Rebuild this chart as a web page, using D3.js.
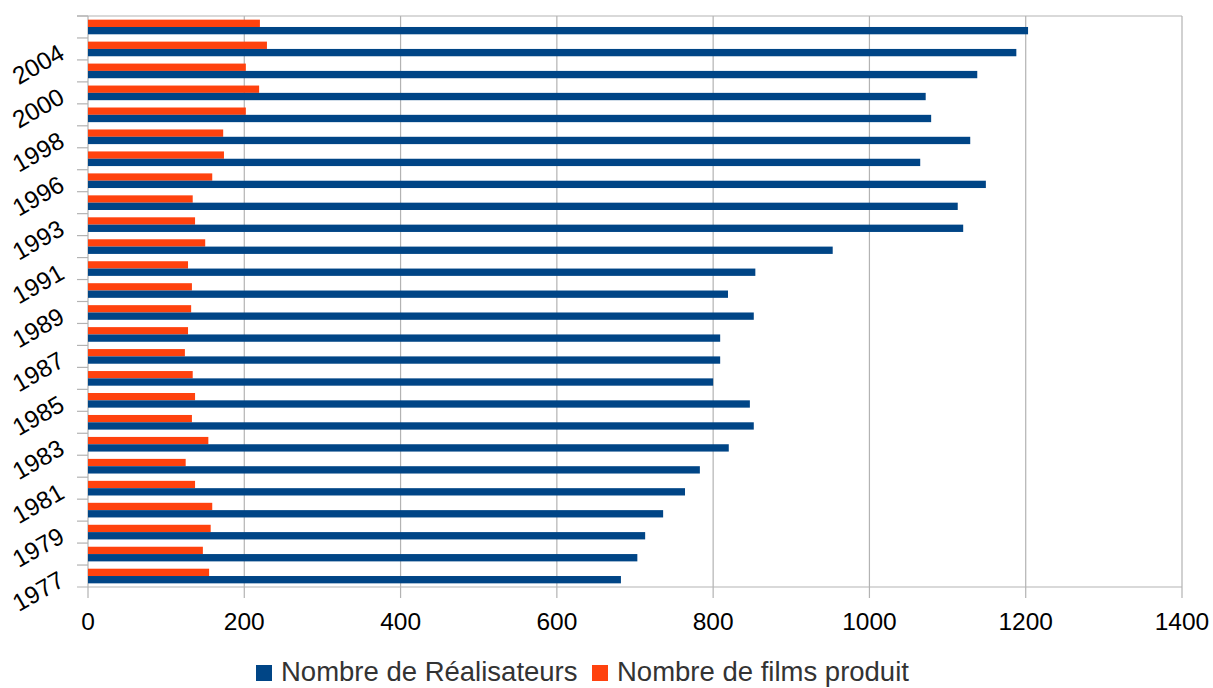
<!DOCTYPE html>
<html lang="fr">
<head>
<meta charset="UTF-8">
<title>Réalisateurs et films produits</title>
<script src="https://d3js.org/d3.v7.min.js"></script>
<style>
  body { margin: 0; background: #fff; font-family: "Liberation Sans", Arial, sans-serif; }
</style>
</head>
<body>
<script>
// years from bottom (1977) to top
var years = ["1977","1978","1979","1980","1981","1982","1983","1984","1985","1986",
             "1987","1988","1989","1990","1991","1992","1993","1995","1996","1997",
             "1998","1999","2000","2002","2004","2005"];
var realisateurs = [682,703,713,736,764,783,820,852,847,800,
                    809,809,852,819,854,953,1120,1113,1149,1065,
                    1129,1079,1072,1138,1188,1203];
var films = [155,147,157,159,137,125,154,133,137,134,
             124,128,132,133,128,150,137,134,159,174,
             173,202,219,202,229,220];
var xTicks = [0,200,400,600,800,1000,1200,1400];
var seriesNames = ["Nombre de Réalisateurs","Nombre de films produit"];
var colors = ["#004586","#ff420e"];

var W = 1213, H = 688;
var m = {left: 88, right: 31, top: 16, bottom: 101};

var svg = d3.select("body").append("svg").attr("width", W).attr("height", H);

var x = d3.scaleLinear().domain([0,1400]).range([m.left, W - m.right]);
var y0 = d3.scaleBand().domain(years).range([H - m.bottom, m.top]).paddingInner(0).paddingOuter(0);
var y1 = d3.scaleBand().domain(["films","real"]).range([0, y0.bandwidth()]).paddingOuter(0.5);

// vertical grid
svg.append("g").selectAll("line").data(xTicks).enter().append("line")
  .attr("x1", d => x(d)).attr("x2", d => x(d))
  .attr("y1", m.top).attr("y2", H - m.bottom + 11)
  .attr("stroke", "#b3b3b3").attr("stroke-width", 1.2);

// top line
svg.append("line").attr("x1", m.left - 11).attr("x2", x(1400))
  .attr("y1", m.top).attr("y2", m.top).attr("stroke", "#b3b3b3").attr("stroke-width", 1.2);

// category ticks
var bounds = years.map(d => y0(d));
svg.append("g").selectAll("line").data(bounds).enter().append("line")
  .attr("x1", m.left - 11).attr("x2", m.left)
  .attr("y1", d => d).attr("y2", d => d)
  .attr("stroke", "#b3b3b3").attr("stroke-width", 1.2);

// bottom axis line
svg.append("line").attr("x1", m.left - 11).attr("x2", x(1400))
  .attr("y1", H - m.bottom).attr("y2", H - m.bottom)
  .attr("stroke", "#b3b3b3").attr("stroke-width", 1.2);

// bars
var rows = svg.append("g").selectAll("g").data(years).enter().append("g")
  .attr("transform", d => "translate(0," + y0(d) + ")");
rows.append("rect")
  .attr("x", x(0)).attr("y", y1("films"))
  .attr("width", (d, i) => x(films[i]) - x(0)).attr("height", y1.bandwidth())
  .attr("fill", colors[1]);
rows.append("rect")
  .attr("x", x(0)).attr("y", y1("real"))
  .attr("width", (d, i) => x(realisateurs[i]) - x(0)).attr("height", y1.bandwidth())
  .attr("fill", colors[0]);

// x tick labels
svg.append("g").selectAll("text").data(xTicks).enter().append("text")
  .attr("x", d => x(d)).attr("y", H - m.bottom + 43)
  .attr("text-anchor", "middle").attr("font-size", 24.5).attr("fill", "#000")
  .text(d => d);

// y tick labels (every other)
svg.append("g").selectAll("text").data(years.filter((d, i) => i % 2 === 0)).enter().append("text")
  .attr("transform", d => "translate(" + (m.left - 22) + "," + (y0(d) + y0.bandwidth() / 2 + 9) + ") rotate(-30)")
  .attr("text-anchor", "end").attr("font-size", 24.5).attr("fill", "#000")
  .text(d => d);

// legend
var leg = svg.append("g");
var lx = [256, 592];
seriesNames.forEach(function(n, i) {
  leg.append("rect").attr("x", lx[i]).attr("y", 665).attr("width", 16).attr("height", 16).attr("fill", colors[i]);
  leg.append("text").attr("x", lx[i] + 25).attr("y", 681).attr("font-size", 27.5).attr("fill", "#333").text(n);
});
</script>
</body>
</html>
